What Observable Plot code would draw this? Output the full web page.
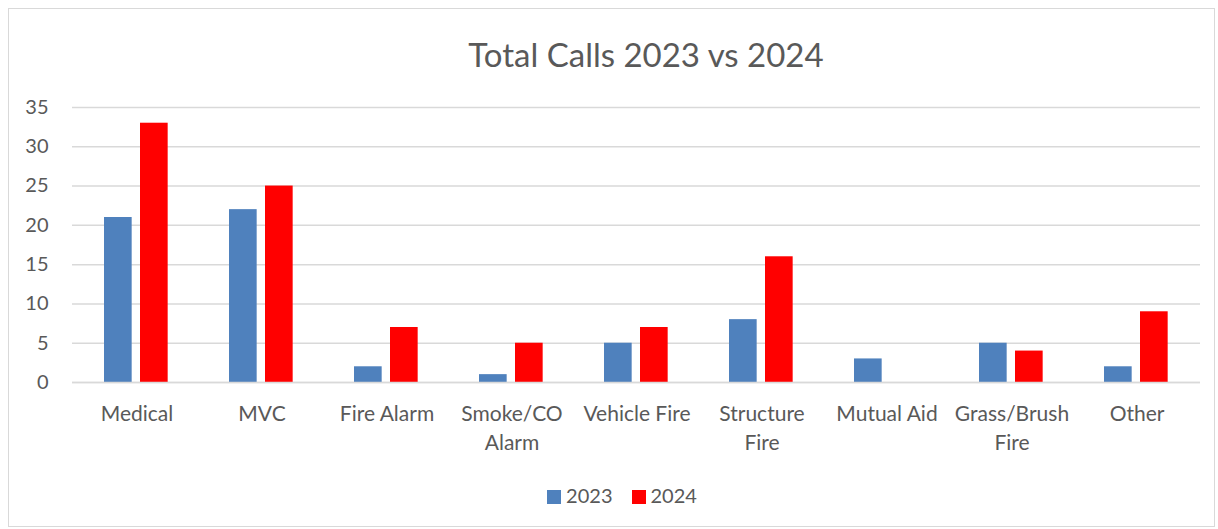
<!DOCTYPE html>
<html>
<head>
<meta charset="utf-8">
<script src="https://cdn.jsdelivr.net/npm/d3@7"></script>
<script src="https://cdn.jsdelivr.net/npm/@observablehq/plot@0.6"></script>
<style>
  html, body { margin: 0; padding: 0; background: #fff; }
  body { width: 1218px; height: 529px; position: relative; overflow: hidden; font-family: Lato, "Open Sans", sans-serif; color: #595959; }
  #frame { position: absolute; left: 8px; top: 8px; width: 1207px; height: 519px; border: 1px solid #d9d9d9; box-sizing: border-box; }
  #title { position: absolute; left: 0; width: 1292px; top: 34px; text-align: center; font-size: 33px; color: #595959; }
  #chart { position: absolute; left: 0; top: 0; }
  #legend { position: absolute; left: 0; width: 1218px; top: 483px; display: flex; justify-content: center; gap: 19px; font-size: 20px; color: #595959; padding-left: 26px; box-sizing: border-box; }
  #legend span.sw { display: inline-block; width: 14px; height: 14px; margin-right: 5px; vertical-align: -1px; }
</style>
</head>
<body>
<div id="frame"></div>
<div id="chart"></div>
<div id="title">Total Calls 2023 vs 2024</div>
<div id="legend"></div>
<script>
const categories = ["Medical", "MVC", "Fire Alarm", "Smoke/CO\nAlarm", "Vehicle Fire", "Structure\nFire", "Mutual Aid", "Grass/Brush\nFire", "Other"];
const series = ["2023", "2024"];
const values2023 = [21, 22, 2, 1, 5, 8, 3, 5, 2];
const values2024 = [33, 25, 7, 5, 7, 16, 0, 4, 9];
const colors = ["#4F81BD", "#FF0000"];
const yTicks = [0, 5, 10, 15, 20, 25, 30, 35];

const rows = [];
categories.forEach((c, i) => {
  rows.push({category: c, year: "2023", value: values2023[i]});
  rows.push({category: c, year: "2024", value: values2024[i]});
});

const bw = (1200 - 72) / categories.length;

const chart = Plot.plot({
  width: 1218,
  height: 529,
  marginTop: 107,
  marginBottom: 147,
  marginLeft: 72,
  marginRight: 18,
  style: {fontFamily: "Lato, 'Open Sans', sans-serif", fontSize: "20px", color: "#595959", background: "transparent"},
  x: {domain: categories, padding: 0, label: null},
  y: {domain: [0, 35], label: null},
  color: {domain: series, range: colors},
  marks: [
    Plot.gridY(yTicks, {stroke: "#d9d9d9", strokeOpacity: 1, strokeWidth: 1.5}),
    Plot.barY(rows.filter(d => d.year === "2023"), {x: "category", y: "value", fill: "year", insetLeft: 30, insetRight: bw - 58}),
    Plot.barY(rows.filter(d => d.year === "2024"), {x: "category", y: "value", fill: "year", insetLeft: 66, insetRight: bw - 94}),
    Plot.ruleY([0], {stroke: "#d9d9d9", strokeWidth: 1.5}),
    Plot.axisY({ticks: yTicks, tickSize: 0, tickPadding: 24, label: null, fill: "#595959", fontSize: 20}),
    Plot.axisX({tickSize: 0, tickPadding: 18, label: null, fill: "#595959", fontSize: 21, lineHeight: 1.38})
  ]
});
document.getElementById("chart").appendChild(chart);

const legend = document.getElementById("legend");
series.forEach((s, i) => {
  const item = document.createElement("div");
  item.innerHTML = `<span class="sw" style="background:${colors[i]}"></span>${s}`;
  legend.appendChild(item);
});
</script>
</body>
</html>
